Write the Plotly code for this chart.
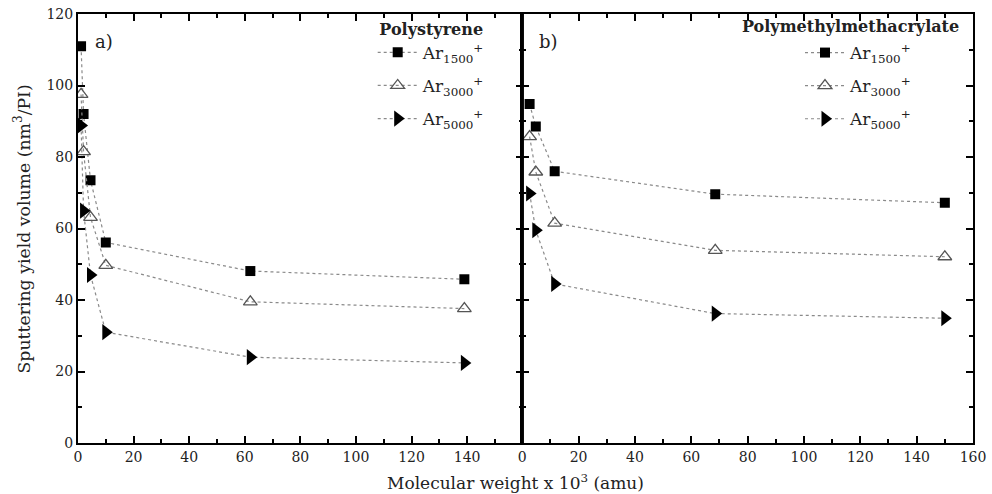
import plotly.graph_objects as go

# ---------------- data ----------------
ps_mw = [1.1, 2.0, 4.5, 10, 62, 139]
ps_ar1500 = [111, 92, 73.5, 56.1, 48.1, 45.8]
ps_ar3000 = [97.5, 81.5, 63.1, 49.7, 39.5, 37.6]
ps_ar5000 = [88.8, 65.0, 47.0, 31.0, 24.0, 22.4]

pmma_mw = [2.6, 4.8, 11.5, 68.5, 150]
pmma_ar1500 = [94.8, 88.5, 76.0, 69.6, 67.2]
pmma_ar3000 = [85.7, 75.8, 61.5, 53.9, 52.1]
pmma_ar5000 = [69.8, 59.5, 44.5, 36.2, 34.9]

series_names = ["Ar<sub>1500</sub><sup>+</sup>",
                "Ar<sub>3000</sub><sup>+</sup>",
                "Ar<sub>5000</sub><sup>+</sup>"]
x_ticks_left = [0, 20, 40, 60, 80, 100, 120, 140]
x_ticks_right = [0, 20, 40, 60, 80, 100, 120, 140, 160]
y_ticks = [0, 20, 40, 60, 80, 100, 120]

FONT = "DejaVu Serif"
LINE = dict(color="#8a8a8a", width=1.2, dash="dot")
markers = [
    dict(symbol="square", size=10, color="black"),
    dict(symbol="triangle-up-open", size=12, color="#555555", line=dict(width=1.3, color="#555555")),
    dict(symbol="triangle-right", size=14, color="black"),
]

fig = go.Figure()
for i, (ys, name, m) in enumerate(zip([ps_ar1500, ps_ar3000, ps_ar5000], series_names, markers)):
    fig.add_trace(go.Scatter(x=ps_mw, y=ys, mode="lines+markers", name=name,
                             line=LINE, marker=m, xaxis="x", yaxis="y", legend="legend",
                             legendgroup=f"ps{i}"))
for i, (ys, name, m) in enumerate(zip([pmma_ar1500, pmma_ar3000, pmma_ar5000], series_names, markers)):
    fig.add_trace(go.Scatter(x=pmma_mw, y=ys, mode="lines+markers", name=name,
                             line=LINE, marker=m, xaxis="x2", yaxis="y2", legend="legend2",
                             legendgroup=f"pm{i}"))

axis_common = dict(showline=True, linewidth=2, linecolor="black", mirror="ticks",
                   ticks="inside", ticklen=7, tickwidth=1.5, tickcolor="black",
                   showgrid=False, zeroline=False, automargin=False,
                   tickfont=dict(family=FONT, size=14, color="#222"))
minor = dict(ticks="inside", ticklen=4, tickwidth=1.5, tickcolor="black", dtick=10, tick0=0, showgrid=False)

split = 0.4969
legend_common = dict(yanchor="top", bgcolor="rgba(0,0,0,0)",
                     font=dict(family=FONT, size=17, color="#222"), tracegroupgap=8, itemwidth=40)
fig.update_layout(
    width=992, height=494,
    margin=dict(l=78, r=19, t=14, b=51),
    paper_bgcolor="white", plot_bgcolor="white",
    font=dict(family=FONT, color="#222"),
    xaxis=dict(domain=[0, split], range=[0, 160], tickmode="array", tickvals=x_ticks_left,
               minor=minor, anchor="y", **axis_common),
    xaxis2=dict(domain=[split - 0.0005, 1], range=[0, 160], tickmode="array", tickvals=x_ticks_right,
                minor=minor, anchor="y2", **axis_common),
    yaxis=dict(range=[0, 120], tickmode="array", tickvals=y_ticks, minor=minor, anchor="x",
               **axis_common),
    yaxis2=dict(range=[0, 120], tickmode="array", tickvals=y_ticks, minor=minor, anchor="x2",
                showticklabels=False, **axis_common),
    legend=dict(x=0.46, y=1.0, xanchor="right",
                title=dict(text="<b>Polystyrene</b>", side="top center",
                           font=dict(family=FONT, size=16, color="#222")),
                **legend_common),
    legend2=dict(x=0.8067, y=0.951, xanchor="left", **legend_common),
    shapes=[dict(type="line", xref="paper", yref="paper", x0=split - 0.0003, x1=split - 0.0003,
                 y0=-0.002, y1=1.002, line=dict(color="black", width=3))],
    annotations=[
        dict(text="a)", xref="x domain", yref="y domain", x=0.033, y=0.935,
             xanchor="left", yanchor="middle", showarrow=False,
             font=dict(family=FONT, size=18, color="#222")),
        dict(text="b)", xref="x2 domain", yref="y2 domain", x=0.033, y=0.935,
             xanchor="left", yanchor="middle", showarrow=False,
             font=dict(family=FONT, size=18, color="#222")),
        dict(text="<b>Polymethylmethacrylate</b>", xref="paper", yref="paper",
             x=(850 - 78) / 895, y=1 - (27 - 14) / 429, xanchor="center", yanchor="middle",
             showarrow=False, font=dict(family=FONT, size=16, color="#222")),
        dict(text="Molecular weight x 10<sup>3</sup> (amu)", xref="paper", yref="paper",
             x=0.489, y=-0.091, xanchor="center", yanchor="middle", showarrow=False,
             font=dict(family=FONT, size=17, color="#222")),
        dict(text="Sputtering yield volume (nm<sup>3</sup>/PI)", xref="paper", yref="paper",
             x=-0.0626, y=0.5, xanchor="center", yanchor="middle", textangle=-90, showarrow=False,
             font=dict(family=FONT, size=17.3, color="#222")),
    ],
)

fig.write_html("out.html", config={"displayModeBar": False},
               post_script="document.body.style.margin='0';document.body.style.overflow='hidden';")
